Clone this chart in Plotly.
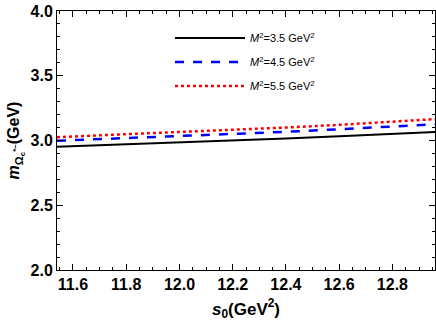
import plotly.graph_objects as go

s0 = [11.54, 11.8, 12.0, 12.2, 12.4, 12.6, 12.8, 12.96]
m_35 = [2.952, 2.970, 2.985, 3.000, 3.015, 3.032, 3.050, 3.066]
m_45 = [2.998, 3.018, 3.033, 3.050, 3.067, 3.087, 3.107, 3.125]
m_55 = [3.026, 3.047, 3.064, 3.082, 3.100, 3.121, 3.143, 3.165]
labels = ["<i>M</i><sup>2</sup>=3.5 GeV<sup>2</sup>",
          "<i>M</i><sup>2</sup>=4.5 GeV<sup>2</sup>",
          "<i>M</i><sup>2</sup>=5.5 GeV<sup>2</sup>"]

fig = go.Figure()
fig.add_trace(go.Scatter(x=s0, y=m_35, mode="lines", name=labels[0], legendgroup="a",
                         line=dict(color="black", width=2)))
fig.add_trace(go.Scatter(x=s0, y=m_45, mode="lines", name=labels[1], legendgroup="b",
                         line=dict(color="#0000ff", width=2.5, dash="dash")))
fig.add_trace(go.Scatter(x=s0, y=m_55, mode="lines", name=labels[2], legendgroup="c",
                         line=dict(color="#ff0000", width=2.5, dash="dot")))

axis_common = dict(
    showline=True, linecolor="black", linewidth=1, mirror="ticks",
    ticks="inside", ticklen=6, tickcolor="black", showgrid=False, zeroline=False,
    automargin=False,
    tickfont=dict(family="Liberation Sans, Arial", size=16, color="black", weight="bold"),
)
fig.update_xaxes(range=[11.54, 12.96], tickvals=[11.6, 11.8, 12.0, 12.2, 12.4, 12.6, 12.8],
                 ticktext=["11.6", "11.8", "12.0", "12.2", "12.4", "12.6", "12.8"],
                 minor=dict(dtick=0.05, ticks="inside", ticklen=3, tickcolor="black"),
                 title=dict(text="<b><i>s</i><sub>0</sub>(GeV<sup>2</sup>)</b>",
                            font=dict(family="Liberation Sans, Arial", size=17, color="black"),
                            standoff=10),
                 **axis_common)
fig.update_yaxes(range=[2.0, 4.0], tickvals=[2.0, 2.5, 3.0, 3.5, 4.0],
                 ticktext=["2.0", "2.5", "3.0", "3.5", "4.0"],
                 minor=dict(dtick=0.1, ticks="inside", ticklen=3, tickcolor="black"),
                 title=dict(text="<b><i>m</i><sub>Ω<sub>c</sub><sup>*−</sup></sub>(GeV)</b>",
                            font=dict(family="Liberation Sans, Arial", size=16, color="black"),
                            standoff=6),
                 **axis_common)

fig.update_layout(
    width=436, height=327,
    margin=dict(l=57, r=1, t=11, b=57, autoexpand=False),
    paper_bgcolor="white", plot_bgcolor="white",
    legend=dict(x=0.299, y=0.952, xanchor="left", yanchor="top", bgcolor="rgba(0,0,0,0)",
                font=dict(family="Liberation Sans, Arial", size=11, color="black"),
                tracegroupgap=5, itemwidth=70),
)

fig.write_html("out.html", config={"displayModeBar": False},
               post_script="document.body.style.margin='0';document.body.style.overflow='hidden';")
